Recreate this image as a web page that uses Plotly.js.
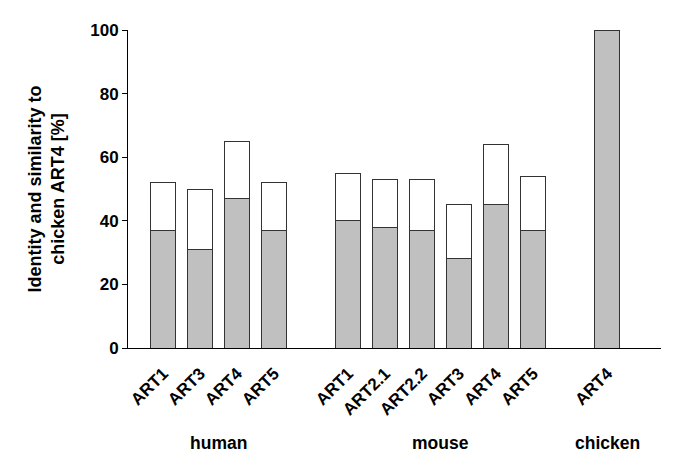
<!DOCTYPE html>
<html><head><meta charset="utf-8">
<script src="https://cdn.plot.ly/plotly-3.0.1.min.js"></script>
<style>html,body{margin:0;padding:0;background:#fff}#c{width:685px;height:472px}</style>
</head><body><div id="c"></div>
<script>
const labels = ["ART1","ART3","ART4","ART5","ART1","ART2.1","ART2.2","ART3","ART4","ART5","ART4"];
const positions = [0,1,2,3,5,6,7,8,9,10,12];
const identity = [37,31,47,37,40,38,37,28,45,37,100];
const similarity = [52,50,65,52,55,53,53,45,64,54,100];
const groups = ["human","mouse","chicken"];
const groupPos = [1.5,7.5,12];
const yTicks = [0,20,40,60,80,100];

const fam = "Liberation Sans, Arial, sans-serif";
const extra = similarity.map((s,i)=>s-identity[i]);
const line = {color:"#333", width:1};
const traces = [
  {type:"bar", x:positions, y:identity, width:0.68, marker:{color:"#c0c0c0", line:line}, hoverinfo:"skip"},
  {type:"bar", x:positions, y:extra, width:0.68, marker:{color:"#fff", line:line}, hoverinfo:"skip"}
];
const layout = {
  width:685, height:472, barmode:"stack", showlegend:false,
  margin:{l:128, r:24, t:30, b:124},
  paper_bgcolor:"#fff", plot_bgcolor:"#fff",
  font:{family:fam, size:17, color:"#000"},
  xaxis:{range:[-0.95,13.45], tickmode:"array", tickvals:positions, ticktext:labels.map(t=>"<b>"+t+"</b>"),
    tickangle:-45, showline:true, linecolor:"#000", linewidth:1, ticks:"outside", ticklen:8, tickcolor:"rgba(0,0,0,0)",
    showgrid:false, zeroline:false, tickfont:{family:fam, size:17, color:"#000"}},
  yaxis:{range:[0,100], tickmode:"array", tickvals:yTicks, ticktext:yTicks.map(v=>"<b>"+v+"</b>"),
    showline:true, linecolor:"#000", linewidth:1, ticks:"outside", ticklen:5, tickcolor:"#000",
    showgrid:false, zeroline:false, tickfont:{family:fam, size:17, color:"#000"},
    title:{text:"<b>Identity and similarity to<br>chicken ART4 [%]</b>", font:{family:fam, size:18, color:"#000"}, standoff:20}},
  annotations: groups.map((g,i)=>({x:groupPos[i], xref:"x", y:-(443-348)/318, yref:"paper", yanchor:"middle",
    text:"<b>"+g+"</b>", showarrow:false, font:{family:fam, size:17.5, color:"#000"}}))
};
Plotly.newPlot("c", traces, layout, {staticPlot:true});
</script></body></html>
